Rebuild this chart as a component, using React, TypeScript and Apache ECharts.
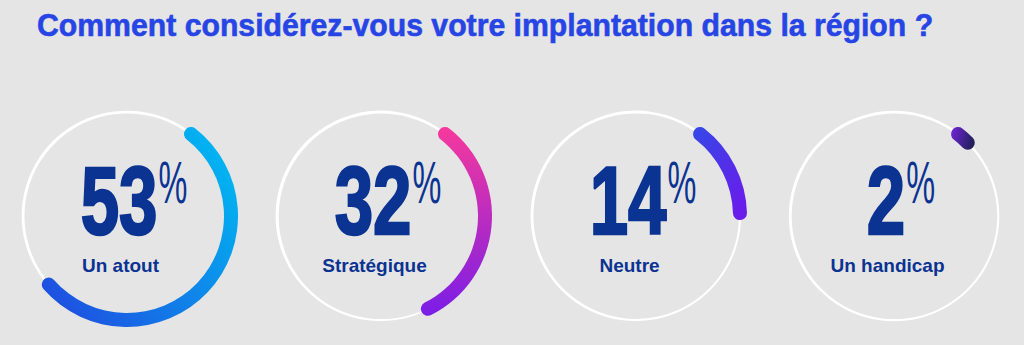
import React, { useEffect, useRef } from "react";
import * as echarts from "echarts";

const TITLE = "Comment considérez-vous votre implantation dans la région ?";
const CATEGORIES = ["Un atout", "Stratégique", "Neutre", "Un handicap"];
const VALUES = [53, 32, 14, 2];
const PERCENT_SIGN = "%";

// styles / layout (not data)
const GRADIENTS: [number, number, number, number, string, string][] = [
  [0, 0.85, 1, 0.15, "#1f4de0", "#00b9f2"],
  [0, 0, 0, 1, "#f6399c", "#7a1ee6"],
  [0, 0, 0.8, 1, "#3449e6", "#6a1bea"],
  [0, 0, 1, 0.3, "#7424de", "#24205e"],
];
const CENTERS_X = [127, 381, 636, 894];
const CENTER_Y = 216;
const RING_R = 104;
const BG = "#e5e5e5";
const NAVY = "#0b3392";
const TITLE_BLUE = "#2645e4";
const FONT = '"Liberation Sans", Arial, sans-serif';

function measure(text: string, font: string): number {
  const c = document.createElement("canvas").getContext("2d");
  if (!c) return text.length * 10;
  c.font = font;
  return c.measureText(text).width;
}

export default function App() {
  const ref = useRef<HTMLDivElement>(null);
  useEffect(() => {
    if (!ref.current) return;
    const chart = echarts.init(ref.current, undefined, { renderer: "svg" });

    const series: any[] = [];
    const graphics: any[] = [];

    // title
    const titleFs = 32;
    const titleW = measure(TITLE, `bold ${titleFs}px ${FONT}`);
    const titleScale = 896 / titleW;
    graphics.push({
      type: "text",
      x: 37,
      y: 36 - 0.35 * titleFs,
      scaleX: titleScale,
      style: {
        text: TITLE,
        fontSize: titleFs,
        fontWeight: "bold",
        fontFamily: FONT,
        fill: TITLE_BLUE,
        stroke: TITLE_BLUE,
        lineWidth: 0.6,
        align: "left",
        verticalAlign: "middle",
      },
    });

    const numFs = 96;
    const numSx = 0.72;
    const pctFs = 59;
    const pctSx = 0.55;
    const labelFs = 19;

    VALUES.forEach((v, i) => {
      const cx = CENTERS_X[i];
      const g = GRADIENTS[i];
      // white ring
      series.push({
        type: "gauge",
        center: [cx, CENTER_Y],
        radius: RING_R + 1.25,
        startAngle: 52,
        endAngle: -308,
        min: 0,
        max: 100,
        pointer: { show: false },
        axisLine: { lineStyle: { width: 2.5, color: [[1, "#ffffff"]] } },
        axisTick: { show: false },
        splitLine: { show: false },
        axisLabel: { show: false },
        detail: { show: false },
        title: { show: false },
        data: [{ value: 0 }],
        silent: true,
      });
      // progress arc
      series.push({
        type: "gauge",
        center: [cx, CENTER_Y],
        radius: RING_R + 7,
        startAngle: 52,
        endAngle: -308,
        min: 0,
        max: 100,
        pointer: { show: false },
        progress: {
          show: true,
          width: 14,
          roundCap: true,
          itemStyle: {
            color: new echarts.graphic.LinearGradient(g[0], g[1], g[2], g[3], [
              { offset: 0, color: g[4] },
              { offset: 1, color: g[5] },
            ]),
          },
        },
        axisLine: { show: false, lineStyle: { width: 14, color: [[1, "rgba(0,0,0,0)"]] } },
        axisTick: { show: false },
        splitLine: { show: false },
        axisLabel: { show: false },
        detail: { show: false },
        title: { show: false },
        data: [{ value: v, name: CATEGORIES[i] }],
        silent: true,
      });

      // number + percent
      const numText = String(v);
      const numW = measure(numText, `bold ${numFs}px ${FONT}`) * numSx;
      const pctW = measure(PERCENT_SIGN, `normal ${pctFs}px ${FONT}`) * pctSx;
      const gap = 1;
      const blockW = numW + gap + pctW;
      const left = cx + 7 - blockW / 2;
      graphics.push({
        type: "text",
        x: left,
        y: 234 - 0.35 * numFs,
        scaleX: numSx,
        style: {
          text: numText,
          fontSize: numFs,
          fontWeight: "bold",
          fontFamily: FONT,
          fill: NAVY,
          stroke: NAVY,
          lineWidth: 2.5,
          align: "left",
          verticalAlign: "middle",
        },
      });
      graphics.push({
        type: "text",
        x: left + numW + gap,
        y: 203 - 0.35 * pctFs,
        scaleX: pctSx,
        style: {
          text: PERCENT_SIGN,
          fontSize: pctFs,
          fontWeight: "normal",
          fontFamily: FONT,
          fill: NAVY,
          align: "left",
          verticalAlign: "middle",
        },
      });
      graphics.push({
        type: "text",
        x: cx - 6.5,
        y: 272 - 0.35 * labelFs,
        style: {
          text: CATEGORIES[i],
          fontSize: labelFs,
          fontWeight: "bold",
          fontFamily: FONT,
          fill: NAVY,
          align: "center",
          verticalAlign: "middle",
        },
      });
    });

    chart.setOption({
      animation: false,
      backgroundColor: BG,
      series,
      graphic: graphics,
    });
    return () => chart.dispose();
  }, []);

  return (
    <div
      ref={ref}
      style={{ position: "absolute", left: 0, top: 0, width: 1024, height: 345 }}
    />
  );
}
